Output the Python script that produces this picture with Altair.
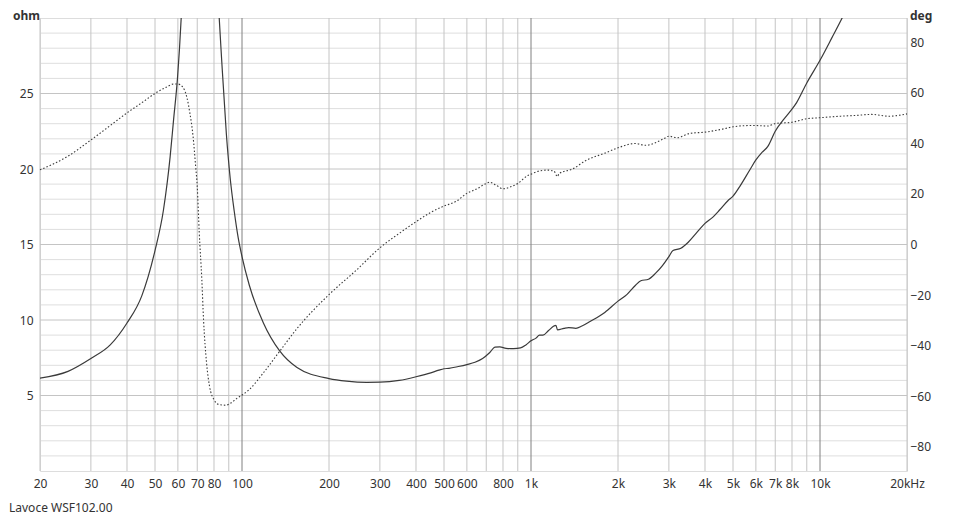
import altair as alt
import pandas as pd

# ---- data ----
imp_freq = [20, 25, 30, 35, 40, 45, 50, 53.5, 56.4, 58, 59.8, 61.6, 64, 67, 71.5, 76, 80, 83.4,
            85, 88.3, 91, 94, 97, 100, 106, 118.6, 135, 155, 200, 230, 270, 300, 350, 400, 450,
            480, 500, 520, 560, 600, 640, 680, 720, 750, 780, 820, 870, 920, 960, 1000,
            1040, 1070, 1100, 1150, 1200, 1220, 1235, 1300, 1350, 1430, 1500, 1600, 1800,
            2000, 2150, 2300, 2400, 2550, 2700, 2850, 3000, 3100, 3300, 3500, 3750, 4000,
            4250, 4500, 4800, 5000, 5300, 5700, 6000, 6300, 6600, 7000, 7500, 7950, 8300,
            9000, 10000, 11000, 12000, 13000]
imp_ohm = [6.15, 6.6, 7.45, 8.35, 9.8, 11.6, 14.6, 17.3, 20.8, 23.3, 26.0, 30.0, 38, 50, 60, 50, 38, 30.0,
           27.3, 22.3, 19.4, 17.2, 15.45, 14.2, 12.3, 9.8, 7.95, 6.85, 6.12, 5.95, 5.87, 5.88, 6.0, 6.24, 6.5,
           6.68, 6.77, 6.8, 6.92, 7.05, 7.2, 7.45, 7.85, 8.2, 8.22, 8.12, 8.1, 8.15, 8.35, 8.62,
           8.8, 9.0, 9.0, 9.3, 9.6, 9.65, 9.35, 9.45, 9.5, 9.45, 9.6, 9.9, 10.5,
           11.25, 11.7, 12.3, 12.6, 12.7, 13.1, 13.6, 14.2, 14.6, 14.75, 15.15, 15.8, 16.4,
           16.8, 17.3, 17.9, 18.2, 18.9, 19.9, 20.6, 21.1, 21.5, 22.5, 23.3, 23.9, 24.4,
           25.7, 27.2, 28.7, 30.1, 31.5]

ph_freq = [20, 25, 30, 35, 40, 45, 50, 55, 58, 60, 62.3, 64.5, 66, 67.7, 69.1, 70, 71.1, 72.6,
           73.6, 75.4, 77.2, 80, 83, 88, 91, 96.5, 100, 106, 118.6, 135, 155, 200, 250, 300,
           352, 400, 450, 500, 550, 600, 650, 700, 720, 760, 800, 850, 900, 975, 1000, 1065,
           1140, 1200, 1235, 1250, 1390, 1550, 1810, 2000, 2290, 2490, 2880, 3000, 3200, 3550,
           4000, 4600, 5000, 5700, 6000, 6600, 7000, 8000, 9000, 10000, 11800, 13300, 15100,
           17300, 20000]
ph_deg = [29.5, 34.9, 41.3, 47, 52, 56, 59.7, 62.3, 63.4, 63.4, 62.3, 58, 52, 42.8, 31, 23, 5, -13.8,
          -29.6, -46.8, -56, -61.3, -63.2, -63.5, -62.8, -60.6, -59.5, -57.3, -50.7, -42.2, -33.2, -19.8, -9.9, -1.3,
          4.6, 9, 12.7, 15.2, 17, 20.2, 22, 24.1, 24.6, 23.3, 22, 22.8, 24.1, 27.3, 27.8, 29,
          29.4, 29, 26.8, 28, 29.8, 33.2, 36.2, 38.2, 39.9, 39.2, 41.8, 42.8, 42.2, 43.9,
          44.4, 45.6, 46.5, 47, 47, 46.8, 47.8, 48.3, 49.7, 50.1, 50.7, 51, 51.4,
          50.7, 51.6]

x_tick_values = [20, 30, 40, 50, 60, 70, 80, 100, 200, 300, 400, 500, 600, 800,
                 1000, 2000, 3000, 4000, 5000, 6000, 7000, 8000, 10000, 20000]
x_tick_labels = ["20", "30", "40", "50", "60", "70", "80", "100", "200", "300", "400", "500",
                 "600", "800", "1k", "2k", "3k", "4k", "5k", "6k", "7k", "8k", "10k", "20kHz"]
grid_freqs = [20, 30, 40, 50, 60, 70, 80, 90, 100, 200, 300, 400, 500, 600, 700, 800, 900,
              1000, 2000, 3000, 4000, 5000, 6000, 7000, 8000, 9000, 10000, 20000]
decade_freqs = [100, 1000, 10000]
ohm_ticks = [5, 10, 15, 20, 25]
deg_ticks = [-80, -60, -40, -20, 0, 20, 40, 60, 80]
ohm_grid = list(range(1, 30))

FONT = "Noto Sans"
LINE = "#3a3a3a"

imp_df = pd.DataFrame({"f": imp_freq, "v": imp_ohm})
ph_df = pd.DataFrame({"f": ph_freq, "v": ph_deg})
vgrid_df = pd.DataFrame({"f": grid_freqs,
                         "c": ["#808080" if f in decade_freqs else "#c4c4c4" for f in grid_freqs]})
hgrid_df = pd.DataFrame({"v": ohm_grid,
                         "c": ["#c4c4c4" if v % 5 == 0 else "#dedede" for v in ohm_grid]})

label_expr = "{" + ",".join(f"'{v}':'{l}'" for v, l in zip(x_tick_values, x_tick_labels)) + "}[datum.value]"

x_enc = alt.X("f:Q",
              scale=alt.Scale(type="log", domain=[20, 20000], nice=False),
              axis=alt.Axis(values=x_tick_values, labelExpr=label_expr, title=None,
                            grid=False, ticks=False, domain=False, labelOverlap=False,
                            labelFlush=False, labelBound=False, labelPadding=7,
                            labelFont=FONT, labelFontSize=12, labelColor="#333333"))
y_ohm = alt.Y("v:Q", scale=alt.Scale(domain=[0, 30], nice=False, zero=False),
              axis=alt.Axis(orient="left", values=ohm_ticks, title=None, grid=False, ticks=False,
                            domain=False, labelPadding=7, labelFont=FONT, labelFontSize=12,
                            labelColor="#333333"))

vgrid = alt.Chart(vgrid_df).mark_rule(strokeWidth=1).encode(
    x=x_enc, color=alt.Color("c:N", scale=None))
hgrid = alt.Chart(hgrid_df).mark_rule(strokeWidth=1).encode(
    y=y_ohm, color=alt.Color("c:N", scale=None))
imp_line = alt.Chart(imp_df).mark_line(color=LINE, strokeWidth=1.2, clip=True,
                                       interpolate="monotone").encode(x=x_enc, y=y_ohm)

ohm_label = alt.Chart(pd.DataFrame({"t": ["ohm"]})).mark_text(
    font=FONT, fontSize=12, fontWeight="bold", color="#333333", align="left", baseline="middle"
).encode(text="t:N", x=alt.value(-27), y=alt.value(-2))
deg_label = alt.Chart(pd.DataFrame({"t": ["deg"]})).mark_text(
    font=FONT, fontSize=12, fontWeight="bold", color="#333333", align="left", baseline="middle"
).encode(text="t:N", x=alt.value(870), y=alt.value(-2))
name_label = alt.Chart(pd.DataFrame({"t": ["Lavoce WSF102.00"]})).mark_text(
    font=FONT, fontSize=12, color="#333333", align="left", baseline="middle"
).encode(text="t:N", x=alt.value(-31), y=alt.value(490))

left = alt.layer(hgrid, vgrid, imp_line, ohm_label, deg_label, name_label)

ph_line = alt.Chart(ph_df).mark_line(color=LINE, strokeWidth=1.1, strokeDash=[1.5, 2],
                                     interpolate="monotone").encode(
    x=x_enc,
    y=alt.Y("v:Q", scale=alt.Scale(domain=[-89.5, 89.5], nice=False, zero=False),
            axis=alt.Axis(orient="right", values=deg_ticks, title=None, grid=False, ticks=False,
                          domain=False, labelPadding=3, labelFont=FONT, labelFontSize=12,
                          labelColor="#333333")))

chart = alt.layer(left, ph_line).resolve_scale(y="independent").properties(
    width=867, height=453,
    autosize=alt.AutoSizeParams(type="none"),
    padding={"left": 32, "top": 10, "right": 45, "bottom": 44},
).configure_view(stroke="#a8a8a8", strokeWidth=1).configure(background="white")

chart.save("out.html", embed_options={"renderer": "svg", "actions": False})
